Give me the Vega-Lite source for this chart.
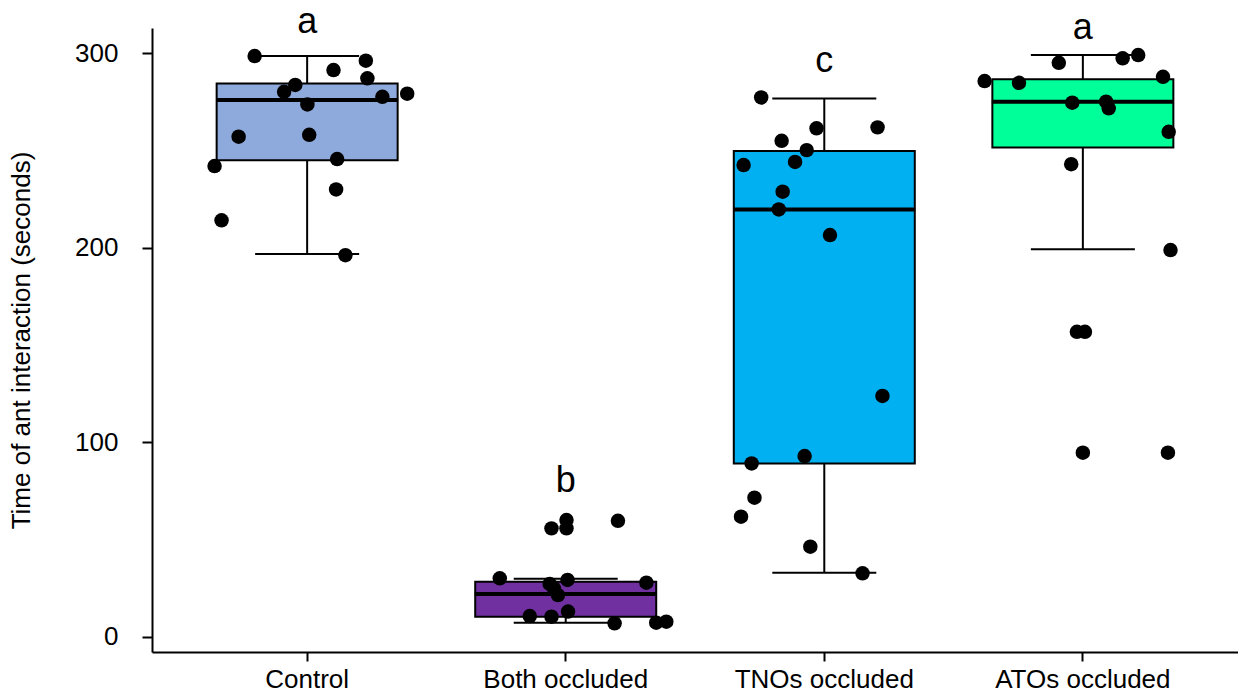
{
  "$schema": "https://vega.github.io/schema/vega-lite/v6.json",
  "autosize": {"type": "none"},
  "padding": {"left": 152, "top": 28, "right": 0, "bottom": 43},
  "width": 1086,
  "height": 624,
  "background": "white",
  "config": {
    "view": {"stroke": null},
    "font": "Liberation Sans"
  },
  "datasets": {
    "stats": [
      {"group": "Control", "lower": 196.8, "q1": 245, "median": 276, "q3": 284.5, "upper": 298.6, "color": "#8EA9DB", "letter": "a", "letterY": 310.6},
      {"group": "Both occluded", "lower": 7.2, "q1": 10.3, "median": 22, "q3": 28.3, "upper": 29.8, "color": "#7030A0", "letter": "b", "letterY": 74.6},
      {"group": "TNOs occluded", "lower": 32.9, "q1": 89.1, "median": 219.7, "q3": 249.7, "upper": 276.8, "color": "#00B0F0", "letter": "c", "letterY": 290.2},
      {"group": "ATOs occluded", "lower": 199.2, "q1": 251.6, "median": 275.1, "q3": 286.7, "upper": 299.1, "color": "#00FF99", "letter": "a", "letterY": 307.2}
    ],
    "points": [
      {"group": "Control", "jitter": -0.203, "time": 298.6},
      {"group": "Control", "jitter": 0.227, "time": 296.2},
      {"group": "Control", "jitter": 0.102, "time": 291.4},
      {"group": "Control", "jitter": 0.233, "time": 287.1},
      {"group": "Control", "jitter": -0.046, "time": 283.7},
      {"group": "Control", "jitter": -0.089, "time": 280.2},
      {"group": "Control", "jitter": 0.387, "time": 279.2},
      {"group": "Control", "jitter": 0.291, "time": 277.6},
      {"group": "Control", "jitter": 0.001, "time": 273.7},
      {"group": "Control", "jitter": -0.265, "time": 257.1},
      {"group": "Control", "jitter": 0.008, "time": 258.1},
      {"group": "Control", "jitter": 0.116, "time": 245.6},
      {"group": "Control", "jitter": -0.358, "time": 242.0},
      {"group": "Control", "jitter": 0.112, "time": 230.0},
      {"group": "Control", "jitter": -0.331, "time": 214.1},
      {"group": "Control", "jitter": 0.148, "time": 196.2},
      {"group": "Both occluded", "jitter": 0.003, "time": 60.0},
      {"group": "Both occluded", "jitter": 0.202, "time": 59.6},
      {"group": "Both occluded", "jitter": -0.055, "time": 55.7},
      {"group": "Both occluded", "jitter": 0.003, "time": 55.7},
      {"group": "Both occluded", "jitter": -0.255, "time": 30.0},
      {"group": "Both occluded", "jitter": 0.007, "time": 29.2},
      {"group": "Both occluded", "jitter": 0.312, "time": 27.8},
      {"group": "Both occluded", "jitter": -0.062, "time": 27.1},
      {"group": "Both occluded", "jitter": -0.046, "time": 24.9},
      {"group": "Both occluded", "jitter": -0.030, "time": 21.4},
      {"group": "Both occluded", "jitter": -0.139, "time": 10.6},
      {"group": "Both occluded", "jitter": -0.055, "time": 10.3},
      {"group": "Both occluded", "jitter": 0.009, "time": 12.9},
      {"group": "Both occluded", "jitter": 0.189, "time": 6.9},
      {"group": "Both occluded", "jitter": 0.350, "time": 7.2},
      {"group": "Both occluded", "jitter": 0.389, "time": 7.7},
      {"group": "TNOs occluded", "jitter": -0.244, "time": 277.3},
      {"group": "TNOs occluded", "jitter": -0.030, "time": 261.4},
      {"group": "TNOs occluded", "jitter": 0.206, "time": 261.9},
      {"group": "TNOs occluded", "jitter": -0.165, "time": 255.0},
      {"group": "TNOs occluded", "jitter": -0.068, "time": 250.2},
      {"group": "TNOs occluded", "jitter": -0.312, "time": 242.5},
      {"group": "TNOs occluded", "jitter": -0.113, "time": 244.1},
      {"group": "TNOs occluded", "jitter": -0.161, "time": 228.8},
      {"group": "TNOs occluded", "jitter": -0.176, "time": 219.7},
      {"group": "TNOs occluded", "jitter": 0.022, "time": 206.5},
      {"group": "TNOs occluded", "jitter": 0.225, "time": 123.8},
      {"group": "TNOs occluded", "jitter": -0.076, "time": 92.9},
      {"group": "TNOs occluded", "jitter": -0.281, "time": 89.1},
      {"group": "TNOs occluded", "jitter": -0.270, "time": 71.5},
      {"group": "TNOs occluded", "jitter": -0.322, "time": 61.7},
      {"group": "TNOs occluded", "jitter": -0.054, "time": 46.3},
      {"group": "TNOs occluded", "jitter": 0.148, "time": 32.6},
      {"group": "ATOs occluded", "jitter": 0.214, "time": 299.1},
      {"group": "ATOs occluded", "jitter": 0.154, "time": 297.4},
      {"group": "ATOs occluded", "jitter": -0.093, "time": 295.1},
      {"group": "ATOs occluded", "jitter": -0.380, "time": 285.7},
      {"group": "ATOs occluded", "jitter": -0.247, "time": 284.8},
      {"group": "ATOs occluded", "jitter": 0.310, "time": 287.9},
      {"group": "ATOs occluded", "jitter": -0.041, "time": 274.6},
      {"group": "ATOs occluded", "jitter": 0.090, "time": 275.1},
      {"group": "ATOs occluded", "jitter": 0.100, "time": 271.7},
      {"group": "ATOs occluded", "jitter": 0.332, "time": 259.6},
      {"group": "ATOs occluded", "jitter": -0.045, "time": 243.0},
      {"group": "ATOs occluded", "jitter": 0.339, "time": 198.8},
      {"group": "ATOs occluded", "jitter": -0.023, "time": 156.8},
      {"group": "ATOs occluded", "jitter": 0.008, "time": 156.8},
      {"group": "ATOs occluded", "jitter": 0.000, "time": 94.6},
      {"group": "ATOs occluded", "jitter": 0.329, "time": 94.6}
    ]
  },
  "encoding": {
    "x": {
      "field": "group",
      "type": "nominal",
      "sort": ["Control", "Both occluded", "TNOs occluded", "ATOs occluded"],
      "scale": {"paddingInner": 0, "paddingOuter": 0.1},
      "axis": {
        "title": null,
        "labelAngle": 0,
        "labelFontSize": 26,
        "labelColor": "black",
        "labelPadding": 5,
        "tickSize": 9,
        "tickColor": "black",
        "tickWidth": 2,
        "domainColor": "black",
        "domainWidth": 2,
        "labelBaseline": "top"
      }
    }
  },
  "layer": [
    {
      "data": {"name": "stats"},
      "mark": {"type": "rule", "color": "black", "strokeWidth": 2},
      "encoding": {
        "y": {
          "field": "lower",
          "type": "quantitative",
          "scale": {"domain": [-7.87, 313.0], "nice": false, "zero": false},
          "axis": {
            "title": "Time of ant interaction (seconds)",
            "titleFontSize": 26,
            "titleFontWeight": "normal",
            "titleColor": "black",
            "titlePadding": 40,
            "values": [0, 100, 200, 300],
            "grid": false,
            "labelFontSize": 26,
            "labelColor": "black",
            "labelPadding": 24,
            "tickSize": 10,
            "tickColor": "black",
            "tickWidth": 2,
            "domainColor": "black",
            "domainWidth": 2
          }
        },
        "y2": {"field": "upper"}
      }
    },
    {
      "data": {"name": "stats"},
      "mark": {"type": "tick", "color": "black", "opacity": 1, "size": 104, "thickness": 2},
      "encoding": {"y": {"field": "lower", "type": "quantitative"}}
    },
    {
      "data": {"name": "stats"},
      "mark": {"type": "tick", "color": "black", "opacity": 1, "size": 104, "thickness": 2},
      "encoding": {"y": {"field": "upper", "type": "quantitative"}}
    },
    {
      "data": {"name": "stats"},
      "mark": {"type": "bar", "width": 181, "stroke": "black", "strokeWidth": 2, "opacity": 1},
      "encoding": {
        "y": {"field": "q1", "type": "quantitative"},
        "y2": {"field": "q3"},
        "fill": {"field": "color", "type": "nominal", "scale": null}
      }
    },
    {
      "data": {"name": "stats"},
      "mark": {"type": "tick", "color": "black", "opacity": 1, "size": 182, "thickness": 4},
      "encoding": {"y": {"field": "median", "type": "quantitative"}}
    },
    {
      "data": {"name": "points"},
      "mark": {"type": "point", "filled": true, "color": "black", "opacity": 1, "size": 210},
      "encoding": {
        "y": {"field": "time", "type": "quantitative"},
        "xOffset": {"field": "jitter", "type": "quantitative", "scale": {"domain": [-0.5, 0.5]}}
      }
    },
    {
      "data": {"name": "stats"},
      "mark": {"type": "text", "fontSize": 36, "color": "black", "baseline": "alphabetic", "align": "center"},
      "encoding": {
        "y": {"field": "letterY", "type": "quantitative"},
        "text": {"field": "letter"}
      }
    }
  ]
}
